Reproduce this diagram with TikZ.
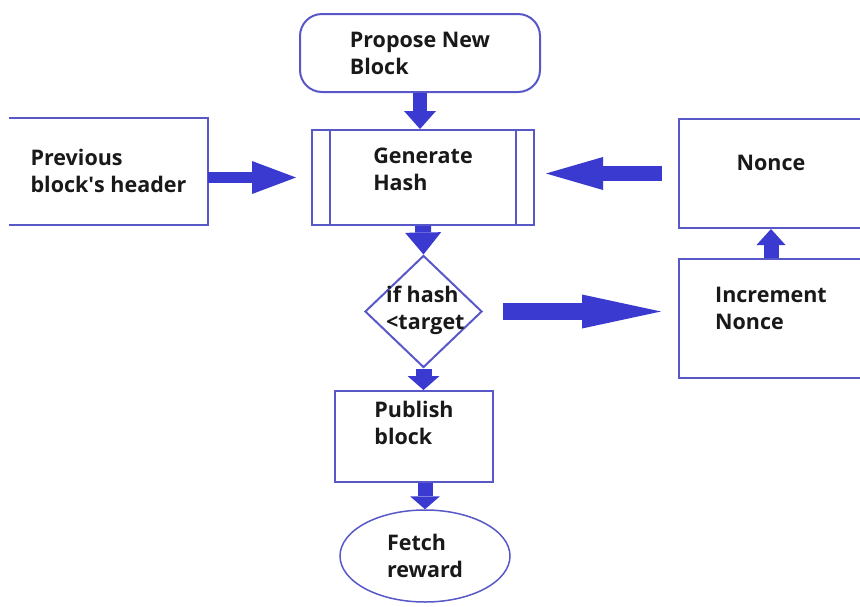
\documentclass[tikz,border=0pt]{standalone}
\usepackage{fontspec}
\setmainfont{Open Sans}
\usetikzlibrary{shapes.geometric,arrows.meta}
\definecolor{boxblue}{RGB}{88,88,200}
\definecolor{arrowblue}{RGB}{58,58,208}

\begin{document}
\begin{tikzpicture}[x=1pt, y=-1pt,
        txt/.style={font=\fontsize{21.5}{27}\selectfont\bfseries, align=left, text=black!90},
        box/.style={txt, draw=boxblue, line width=2pt, inner sep=0pt},
        flow/.style args={#1/#2/#3}{draw=arrowblue, line width=#1, -{Triangle[width=#2, length=#3, line width=0pt]}}]
        \useasboundingbox (0,0) rectangle (860,606);
        \clip (0,0) rectangle (860,606);
        % boxes
        \node[box, rounded corners=22pt, minimum width=240, minimum height=78] (propose) at (420,53) {Propose New\\Block};
        \node[box, text depth=17pt, minimum width=222, minimum height=95] (hash) at (423,177.5) {Generate\\Hash};
        \draw[boxblue, line width=2pt] ([xshift=19]hash.north west) -- ([xshift=19]hash.south west)
                ([xshift=-19]hash.north east) -- ([xshift=-19]hash.south east);
        \node[box, draw=none, minimum width=197, minimum height=105] (prev) at (108.5,171) {Previous\\block\textquotesingle s header};
        \draw[boxblue, line width=2pt] (prev.north west) -- (prev.north east) -- (prev.south east) -- (prev.south west);
        \node[box, text depth=21pt, minimum width=184, minimum height=109] (nonce) at (771,173.5) {Nonce};
        \node[box, text depth=21pt, minimum width=184, minimum height=119] (incr) at (771,318.5) {Increment\\Nonce};
        \node[box, diamond, minimum width=117, minimum height=112] (check) at (423.5,311.5) {};
        \node[txt, anchor=west, inner sep=0pt] (checktext) at (386,310) {if hash\\<target};
        \node[box, text depth=27pt, minimum width=158, minimum height=91] (publish) at (414,436.5) {Publish\\block};
        \node[box, ellipse, line width=1.5pt, minimum width=170, minimum height=92] (reward) at (425,556) {Fetch\\reward};
        % arrows
        \draw[flow=14/32/18] (propose.south) -- (propose.south |- hash.north);
        \draw[flow=16/36/22] (hash.south) -- (check.north);
        \draw[flow=16/32/14] (check.south) -- (check.south |- publish.north);
        \draw[flow=15/30/13] (publish.south -| reward.north) -- (reward.north);
        \draw[flow=11/33/44, shorten >=15] (prev.east |- hash.west) -- (hash.west);
        \draw[flow=15/33/57, shorten <=16, shorten >=11] (nonce.west) -- (nonce.west -| hash.east);
        \draw[flow=17/34/79, shorten <=20, shorten >=17] (check.east) -- (check.east -| incr.west);
        \draw[flow=15/29/16] (incr.north) -- (nonce.south);
\end{tikzpicture}
\end{document}
